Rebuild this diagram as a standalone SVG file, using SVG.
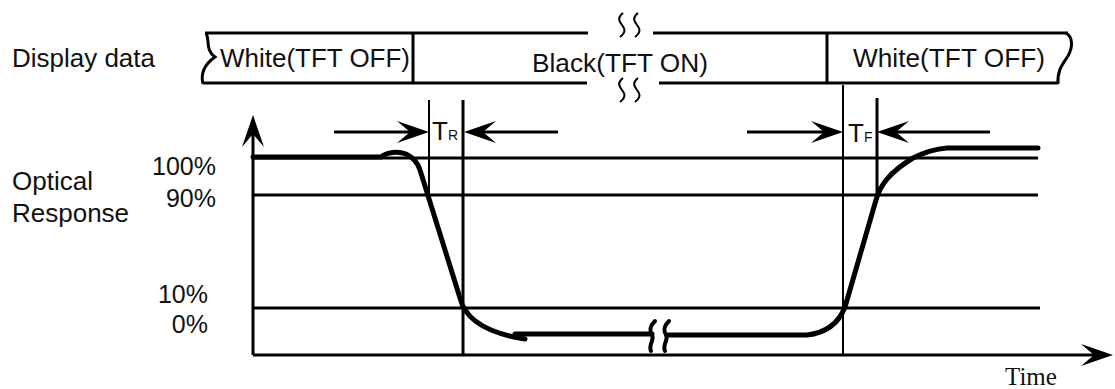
<svg xmlns="http://www.w3.org/2000/svg" xmlns:xlink="http://www.w3.org/1999/xlink" width="1115" height="389" viewBox="0 0 1115 389">
<style>
.t{font-family:"Liberation Sans",Arial,sans-serif;font-size:26px;fill:#111}
.p{font-family:"Liberation Sans",Arial,sans-serif;font-size:25px;fill:#111}
.s{font-size:14px}
.ln{stroke:#000;stroke-width:3;fill:none}
.thin{stroke:#000;stroke-width:2;fill:none}
.curve{stroke:#000;stroke-width:5;fill:none;stroke-linecap:round;stroke-linejoin:round}
.sq{stroke:#000;stroke-width:2;fill:none}
.sqb{stroke:#000;stroke-width:4;fill:none;stroke-linecap:round}
</style>
<defs>
<path id="ah" d="M0,0 L-32,-11 L-19,0 L-32,11 Z" fill="#000"/>
</defs>
<rect width="1115" height="389" fill="#fff"/>

<g id="display-label"><text class="t" x="12" y="67" textLength="143" lengthAdjust="spacingAndGlyphs">Display data</text></g>

<g id="band">
<path class="ln" d="M205,33 H588 M653,33 H1068 M203,83 H587 M659,83 H1058 M413,33 V83 M827,33 V83"/>
<path class="ln" d="M206,33 C210,40 205,50 215,57 C205,64 200,72 203,84"/>
<path class="ln" d="M1066,33 C1073,37 1073,47 1068,56 C1063,64 1057,70 1058,84"/>
<path class="sq" d="M623,13 c-5,4 -5,7 -1,12 c4,5 3,8 -2,12 M638,13 c-5,4 -5,7 -1,12 c4,5 3,8 -2,12"/>
<path class="sq" d="M623,78 c-5,4 -5,7 -1,12 c4,5 3,8 -2,12 M638,78 c-5,4 -5,7 -1,12 c4,5 3,8 -2,12"/>
</g>
<g id="white-left"><text class="t" x="220" y="67" textLength="190" lengthAdjust="spacingAndGlyphs">White(TFT OFF)</text></g>
<g id="black"><text class="t" x="532" y="72" textLength="176" lengthAdjust="spacingAndGlyphs">Black(TFT ON)</text></g>
<g id="white-right"><text class="t" x="853" y="67" textLength="192" lengthAdjust="spacingAndGlyphs">White(TFT OFF)</text></g>

<g id="optical-label">
<text class="t" x="12" y="190">Optical</text>
<text class="t" x="12" y="222">Response</text>
</g>
<g id="levels">
<text class="p" x="216" y="175" text-anchor="end">100%</text>
<text class="p" x="216" y="207" text-anchor="end">90%</text>
<text class="p" x="208" y="303" text-anchor="end">10%</text>
<text class="p" x="208" y="333" text-anchor="end">0%</text>
</g>

<g id="grid">
<path class="ln" d="M253,158 H1038 M253,195 H1038 M253,308 H1040"/>
<path class="thin" d="M429,100 V195 M843,85 V355"/>
<path class="ln" d="M463,100 V355 M877,98 V195"/>
</g>

<g id="connectors">
<path class="ln" d="M253,355 V134 M253,355 H1096"/>
<use xlink:href="#ah" transform="translate(253,115) rotate(-90)"/>
<use xlink:href="#ah" transform="translate(1113,355)"/>
<path class="ln" d="M334,132 H412 M558,132 H481 M747,132 H826 M990,132 H894"/>
<use xlink:href="#ah" transform="translate(429,132)"/>
<use xlink:href="#ah" transform="translate(464,132) rotate(180)"/>
<use xlink:href="#ah" transform="translate(843,132)"/>
<use xlink:href="#ah" transform="translate(877,132) rotate(180)"/>
</g>

<g id="tr-label"><text class="t" x="432" y="140">T<tspan class="s">R</tspan></text></g>
<g id="tf-label"><text class="t" x="848" y="142">T<tspan class="s">F</tspan></text></g>

<g id="response-curve">
<path class="curve" d="M253,157 L381,157 C387,152 398,151 406,154 C414,158 418,163 420,170 L460,298 C464,315 480,332 525,339"/>
<path class="curve" d="M515,334 L652,334"/>
<path class="sqb" d="M655,321 c-5,5 -6,9 -3,14 c3,5 -4,9 -1,16 M669,321 c-5,5 -6,9 -3,14 c3,5 -4,9 -1,16"/>
<path class="curve" d="M668,335 L807,335 C825,333 838,325 845,307 L876,200 C880,185 890,172 913,158 C925,152 935,149 947,148 L1038,148"/>
</g>

<g id="time-label"><text x="1005" y="385" style="font-family:'Liberation Serif','Times New Roman',serif;font-size:25px;fill:#111">Time</text></g>
</svg>
